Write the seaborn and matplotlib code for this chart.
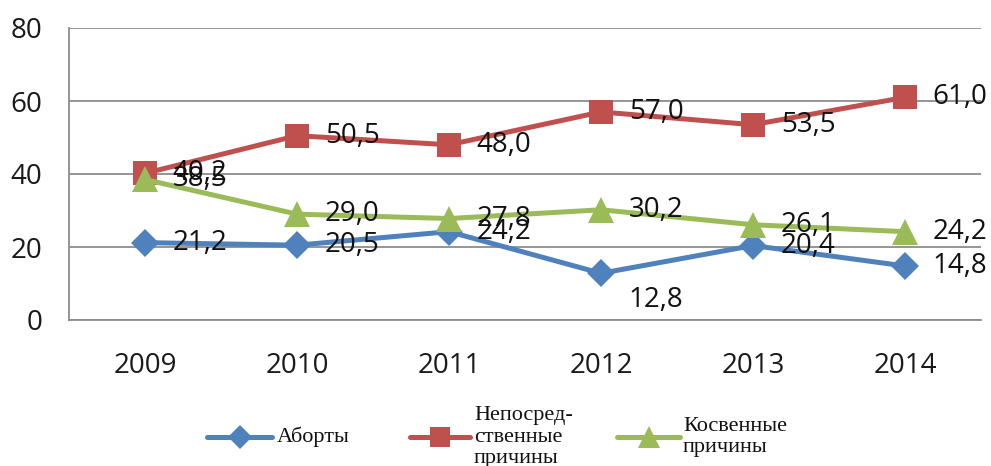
import numpy as np
import pandas as pd
import matplotlib
matplotlib.use("Agg")
import matplotlib.pyplot as plt
from matplotlib.lines import Line2D
import seaborn as sns

# data
years = ["2009", "2010", "2011", "2012", "2013", "2014"]
abortions = [21.2, 20.5, 24.2, 12.8, 20.4, 14.8]
direct_causes = [40.2, 50.5, 48.0, 57.0, 53.5, 61.0]
indirect_causes = [38.5, 29.0, 27.8, 30.2, 26.1, 24.2]
series_names = ["Аборты", "Непосред-\nственные\nпричины", "Косвенные\nпричины"]
y_ticks = [0, 20, 40, 60, 80]

sns.set_style("white")
plt.rcParams["font.family"] = ["Open Sans", "DejaVu Sans"]

colors = ["#4F81BD", "#C0504D", "#9BBB59"]
markers = ["D", "s", "^"]
msizes = [14, 17, 19]

fig = plt.figure(figsize=(9.91, 4.66), dpi=100)
ax = fig.add_axes([69 / 991, (466 - 320) / 466, (981 - 69) / 991, (320 - 28) / 466])

all_series = [abortions, direct_causes, indirect_causes]
for vals, name, c, m, ms in zip(all_series, series_names, colors, markers, msizes):
    df = pd.DataFrame({"year": years, "value": vals})
    sns.lineplot(data=df, x="year", y="value", ax=ax, color=c, marker=m,
                 markersize=ms, markeredgewidth=0, linewidth=3.6, zorder=3)
    for i, v in enumerate(vals):
        dy = 0
        if name == "Аборты" and years[i] == "2012":
            dy = -19  # label was nudged down in the original
        ax.annotate(f"{v:.1f}".replace(".", ","), (i, v), xytext=(20, dy),
                    textcoords="offset points", ha="left", va="center",
                    fontsize=20, color="#111111", zorder=5)

ax.set_xlim(-0.5, len(years) - 0.5)
ax.set_ylim(0, 80)
ax.set_yticks(y_ticks)
ax.set_xlabel("")
ax.set_ylabel("")
ax.yaxis.grid(True, color="#8c8c8c", linewidth=1.3)
ax.set_axisbelow(True)
ax.tick_params(axis="both", length=0, labelsize=20, colors="#1a1a1a")
ax.tick_params(axis="y", pad=19)
ax.tick_params(axis="x", pad=23)
for side in ["top", "right"]:
    ax.spines[side].set_visible(False)
for side in ["left", "bottom"]:
    ax.spines[side].set_color("#8c8c8c")
    ax.spines[side].set_linewidth(1.3)

# legend drawn by hand at the bottom
leg_y = 1 - 437 / 466
leg_lines = [(207, 272), (410, 470), (617, 680)]
leg_text_x = [277, 474, 683]
for (x0, x1), tx, name, c, m, ms in zip(leg_lines, leg_text_x, series_names, colors, markers, msizes):
    fig.add_artist(Line2D([x0 / 991, x1 / 991], [leg_y, leg_y], transform=fig.transFigure,
                          color=c, linewidth=3.6, solid_capstyle="round"))
    fig.add_artist(Line2D([(x0 + x1) / 2 / 991], [leg_y], transform=fig.transFigure,
                          color=c, marker=m, markersize=ms * 0.85, markeredgewidth=0))
    fig.text(tx / 991, leg_y, name, ha="left", va="center", fontsize=16,
             family="Liberation Serif", linespacing=1.15, color="#111111")

fig.savefig("out.png", dpi=100)
